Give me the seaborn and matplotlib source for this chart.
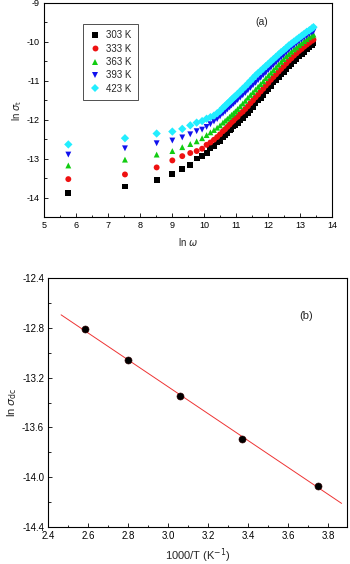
import numpy as np
import pandas as pd
import matplotlib
matplotlib.use("Agg")
import matplotlib.pyplot as plt
from matplotlib.ticker import MultipleLocator
import seaborn as sns

# ---------------- data: panel (a) ----------------
ln_omega = [5.76, 7.53, 8.52, 9.01, 9.32, 9.57, 9.77, 9.94, 10.08, 10.20,
            10.31, 10.41, 10.50, 10.59, 10.66, 10.73, 10.80, 10.86, 10.92, 10.98,
            11.05, 11.13, 11.21, 11.29, 11.37, 11.45, 11.53, 11.61, 11.69, 11.77,
            11.85, 11.93, 12.01, 12.09, 12.17, 12.25, 12.33, 12.41, 12.49, 12.57,
            12.65, 12.73, 12.81, 12.89, 12.97, 13.05, 13.13, 13.21, 13.29, 13.37, 13.42]

sig_303 = [-13.88, -13.71, -13.54, -13.38, -13.26, -13.16, -12.99, -12.92, -12.84, -12.72,
           -12.67, -12.57, -12.54, -12.44, -12.40, -12.34, -12.27, -12.24, -12.17, -12.13,
           -12.07, -12.00, -11.95, -11.87, -11.82, -11.74, -11.66, -11.58, -11.50, -11.43,
           -11.35, -11.27, -11.20, -11.12, -11.04, -10.97, -10.90, -10.83, -10.76, -10.69,
           -10.62, -10.56, -10.49, -10.43, -10.37, -10.31, -10.25, -10.19, -10.14, -10.08, -10.04]
sig_333 = [-13.52, -13.40, -13.22, -13.04, -12.93, -12.85, -12.80, -12.74, -12.64, -12.58,
           -12.51, -12.44, -12.37, -12.29, -12.24, -12.18, -12.12, -12.06, -12.02, -11.96,
           -11.92, -11.84, -11.79, -11.72, -11.65, -11.57, -11.50, -11.42, -11.35, -11.27,
           -11.20, -11.12, -11.05, -10.97, -10.90, -10.83, -10.76, -10.69, -10.62, -10.55,
           -10.48, -10.42, -10.35, -10.29, -10.23, -10.18, -10.12, -10.07, -10.02, -9.97, -9.94]
sig_363 = [-13.17, -13.02, -12.89, -12.80, -12.70, -12.62, -12.55, -12.47, -12.39, -12.32,
           -12.26, -12.20, -12.14, -12.07, -12.02, -11.97, -11.92, -11.87, -11.83, -11.78,
           -11.72, -11.65, -11.58, -11.51, -11.43, -11.36, -11.29, -11.22, -11.15, -11.08,
           -11.01, -10.93, -10.86, -10.79, -10.72, -10.65, -10.58, -10.51, -10.44, -10.37,
           -10.31, -10.25, -10.19, -10.14, -10.08, -10.03, -9.98, -9.93, -9.88, -9.84, -9.81]
sig_393 = [-12.89, -12.73, -12.60, -12.53, -12.45, -12.37, -12.29, -12.25, -12.18, -12.11,
           -12.04, -11.98, -11.91, -11.84, -11.79, -11.73, -11.68, -11.63, -11.59, -11.54,
           -11.49, -11.43, -11.37, -11.31, -11.24, -11.18, -11.11, -11.05, -10.98, -10.92,
           -10.85, -10.79, -10.72, -10.66, -10.59, -10.53, -10.46, -10.40, -10.34, -10.27,
           -10.21, -10.15, -10.10, -10.04, -9.99, -9.94, -9.89, -9.85, -9.80, -9.76, -9.73]
sig_423 = [-12.63, -12.47, -12.35, -12.30, -12.23, -12.14, -12.07, -12.03, -11.97, -11.93,
           -11.89, -11.83, -11.77, -11.69, -11.64, -11.58, -11.53, -11.48, -11.43, -11.39,
           -11.33, -11.27, -11.20, -11.14, -11.07, -11.00, -10.93, -10.86, -10.80, -10.74,
           -10.68, -10.62, -10.56, -10.50, -10.44, -10.38, -10.32, -10.26, -10.21, -10.15,
           -10.09, -10.04, -9.99, -9.94, -9.89, -9.84, -9.79, -9.74, -9.70, -9.65, -9.62]

temp_labels = ["303 K", "333 K", "363 K", "393 K", "423 K"]
series_a = [sig_303, sig_333, sig_363, sig_393, sig_423]

# ---------------- data: panel (b) ----------------
inv_T = [2.584, 2.80, 3.06, 3.37, 3.75]
ln_sig_dc = [-12.81, -13.06, -13.35, -13.69, -14.07]

# ---------------- styling ----------------
sns.set_theme(style="white")
plt.rcParams["font.family"] = ["Liberation Sans", "DejaVu Sans"]
plt.rcParams["mathtext.fontset"] = "dejavusans"
plt.rcParams["axes.unicode_minus"] = False
plt.rcParams["axes.edgecolor"] = "black"
plt.rcParams["axes.linewidth"] = 0.8

colors = ["#000000", "#ee1111", "#11cc11", "#1111ee", "#22eeff"]
markers = ["s", "o", "^", "v", "D"]

fig = plt.figure(figsize=(3.5, 5.64), dpi=100)
ax1 = fig.add_axes([0.1257, 0.6147, 0.823, 0.380])
ax2 = fig.add_axes([0.138, 0.0661, 0.854, 0.4404])

# Panel (a)
rows = []
for lab, ys in zip(temp_labels, series_a):
    for x, y in zip(ln_omega, ys):
        rows.append({"ln_omega": x, "ln_sigma": y, "T": lab})
df_a = pd.DataFrame(rows)

sns.scatterplot(data=df_a, x="ln_omega", y="ln_sigma", hue="T", style="T",
                hue_order=temp_labels, style_order=temp_labels,
                palette=colors, markers=markers, s=18, linewidth=0,
                ax=ax1)

ax1.set_xlim(5, 14)
ax1.set_ylim(-14.5, -9)
ax1.xaxis.set_major_locator(MultipleLocator(1))
ax1.xaxis.set_minor_locator(MultipleLocator(0.5))
ax1.yaxis.set_major_locator(MultipleLocator(1))
ax1.yaxis.set_minor_locator(MultipleLocator(0.5))
ax1.set_xlabel(r"ln $\omega$", fontsize=7, labelpad=4)
ax1.set_ylabel(r"ln $\sigma_{\rm t}$", fontsize=7, labelpad=2)
ax1.text(11.8, -9.48, "(a)", fontsize=7.5, ha="center", va="center")

leg = ax1.legend(loc="upper left", bbox_to_anchor=(0.135, 0.9), borderaxespad=0,
                 fontsize=7, frameon=True, fancybox=False, handletextpad=0.6,
                 labelspacing=0.35, borderpad=0.6, markerscale=1.0, handlelength=1.2)
leg.get_frame().set_edgecolor("black")
leg.get_frame().set_linewidth(0.6)

# Panel (b)
df_b = pd.DataFrame({"invT": inv_T, "lnsig": ln_sig_dc})
slope, intercept = np.polyfit(df_b["invT"], df_b["lnsig"], 1)
fit_x = np.array([2.464, 3.867])
df_fit = pd.DataFrame({"invT": fit_x, "lnsig": slope * fit_x + intercept})
sns.lineplot(data=df_fit, x="invT", y="lnsig", color="#ee3333", linewidth=0.7, ax=ax2)
sns.scatterplot(data=df_b, x="invT", y="lnsig", color="black", s=26,
                edgecolor="#330000", linewidth=0.4, ax=ax2, zorder=3)

ax2.set_xlim(2.4, 3.895)
ax2.set_ylim(-14.4, -12.4)
ax2.xaxis.set_major_locator(MultipleLocator(0.2))
ax2.xaxis.set_minor_locator(MultipleLocator(0.1))
ax2.yaxis.set_major_locator(MultipleLocator(0.4))
ax2.yaxis.set_minor_locator(MultipleLocator(0.2))
ax2.xaxis.set_major_formatter(matplotlib.ticker.FormatStrFormatter("%.1f"))
ax2.yaxis.set_major_formatter(matplotlib.ticker.FormatStrFormatter("%.1f"))
ax2.set_xlabel(r"1000/T (K$^{-1}$)", fontsize=8, labelpad=4)
ax2.set_ylabel(r"ln $\sigma_{\rm dc}$", fontsize=8, labelpad=2)
ax2.text(3.69, -12.70, "(b)", fontsize=8, ha="center", va="center")

for ax, fs in ((ax1, 6.5), (ax2, 7)):
    ax.tick_params(which="both", direction="in", top=False, right=False,
                   bottom=True, left=True, labelsize=fs, colors="black", pad=3)
    ax.tick_params(which="major", length=3, width=0.6)
    ax.tick_params(which="minor", length=1.8, width=0.6)
    for sp in ax.spines.values():
        sp.set_visible(True)
        sp.set_color("black")
        sp.set_linewidth(0.8)
    ax.set_facecolor("white")

fig.savefig("out.png", dpi=100, facecolor="white")
